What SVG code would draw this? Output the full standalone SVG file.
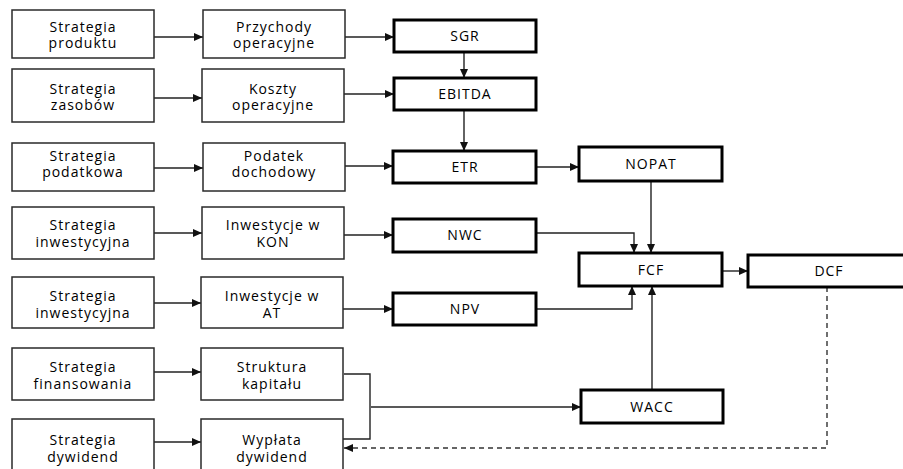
<svg xmlns="http://www.w3.org/2000/svg" width="903" height="469" viewBox="0 0 903 469">
<defs>
<style>
.bx{fill:#fff;stroke:#2a2a2a;stroke-width:1.5}
.bk{fill:#fff;stroke:#000;stroke-width:3}
text{font-family:"Open Sans","DejaVu Sans",sans-serif;font-size:14px;letter-spacing:1px;fill:#000;text-anchor:middle}
.c{fill:none;stroke:#222;stroke-width:1.4}
.d{fill:none;stroke:#333;stroke-width:1.4;stroke-dasharray:5 4}
</style>
<marker id="a" markerUnits="userSpaceOnUse" markerWidth="10" markerHeight="8" refX="9" refY="4" orient="auto">
<path d="M0,0 L9,4 L0,8 Z" fill="#111"/>
</marker>
</defs>
<rect width="903" height="469" fill="#fff"/>
<g id="connectors">
<path class="c" d="M154,37 H203" marker-end="url(#a)"/>
<path class="c" d="M345,37 H394" marker-end="url(#a)"/>
<path class="c" d="M154,98 H202" marker-end="url(#a)"/>
<path class="c" d="M344,94 H394" marker-end="url(#a)"/>
<path class="c" d="M154,168 H203" marker-end="url(#a)"/>
<path class="c" d="M345,166 H393" marker-end="url(#a)"/>
<path class="c" d="M154,233 H202" marker-end="url(#a)"/>
<path class="c" d="M344,235 H393" marker-end="url(#a)"/>
<path class="c" d="M154,303 H201" marker-end="url(#a)"/>
<path class="c" d="M343,309 H393" marker-end="url(#a)"/>
<path class="c" d="M154,372 H201" marker-end="url(#a)"/>
<path class="c" d="M154,442 H201" marker-end="url(#a)"/>
<path class="c" d="M344,374 H370 V439 H343"/>
<path class="c" d="M371,407 H581" marker-end="url(#a)"/>
<path class="c" d="M464,52 V78" marker-end="url(#a)"/>
<path class="c" d="M464,110 V151" marker-end="url(#a)"/>
<path class="c" d="M536,167 H579" marker-end="url(#a)"/>
<path class="c" d="M536,233 H634 V253" marker-end="url(#a)"/>
<path class="c" d="M651,181 V253" marker-end="url(#a)"/>
<path class="c" d="M536,309 H632 V286" marker-end="url(#a)"/>
<path class="c" d="M652,390 V286" marker-end="url(#a)"/>
<path class="c" d="M722,271 H748" marker-end="url(#a)"/>
<path class="d" d="M827,287 V448 H344" marker-end="url(#a)"/>
</g>
<g id="s1"><rect class="bx" x="12" y="10" width="142" height="48"/><text x="83" y="32">Strategia</text><text x="83" y="48">produktu</text></g>
<g id="s2"><rect class="bx" x="12" y="69" width="142" height="53"/><text x="83" y="94">Strategia</text><text x="83" y="110">zasobów</text></g>
<g id="s3"><rect class="bx" x="12" y="143" width="142" height="48"/><text x="83" y="161">Strategia</text><text x="83" y="177">podatkowa</text></g>
<g id="s4"><rect class="bx" x="12" y="207" width="142" height="52"/><text x="83" y="230">Strategia</text><text x="83" y="247">inwestycyjna</text></g>
<g id="s5"><rect class="bx" x="12" y="277" width="142" height="51"/><text x="83" y="301">Strategia</text><text x="83" y="318">inwestycyjna</text></g>
<g id="s6"><rect class="bx" x="12" y="348" width="142" height="52"/><text x="83" y="372">Strategia</text><text x="83" y="389">finansowania</text></g>
<g id="s7"><rect class="bx" x="12" y="419" width="142" height="60"/><text x="83" y="445">Strategia</text><text x="83" y="462">dywidend</text></g>
<g id="m1"><rect class="bx" x="203" y="10" width="142" height="48"/><text x="274" y="32">Przychody</text><text x="274" y="48">operacyjne</text></g>
<g id="m2"><rect class="bx" x="202" y="69" width="142" height="53"/><text x="273" y="94">Koszty</text><text x="273" y="110">operacyjne</text></g>
<g id="m3"><rect class="bx" x="203" y="143" width="142" height="48"/><text x="274" y="161">Podatek</text><text x="274" y="177">dochodowy</text></g>
<g id="m4"><rect class="bx" x="202" y="207" width="142" height="52"/><text x="273" y="230">Inwestycje w</text><text x="273" y="247">KON</text></g>
<g id="m5"><rect class="bx" x="201" y="277" width="142" height="51"/><text x="272" y="301">Inwestycje w</text><text x="272" y="318">AT</text></g>
<g id="m6"><rect class="bx" x="201" y="348" width="142" height="52"/><text x="272" y="372">Struktura</text><text x="272" y="389">kapitału</text></g>
<g id="m7"><rect class="bx" x="201" y="419" width="142" height="60"/><text x="272" y="445">Wypłata</text><text x="272" y="462">dywidend</text></g>
<g id="sgr"><rect class="bk" x="394" y="20" width="142" height="32"/><text x="465" y="41">SGR</text></g>
<g id="ebitda"><rect class="bk" x="394" y="78" width="142" height="32"/><text x="465" y="99">EBITDA</text></g>
<g id="etr"><rect class="bk" x="393" y="151" width="143" height="32"/><text x="465" y="172">ETR</text></g>
<g id="nwc"><rect class="bk" x="393" y="219" width="143" height="33"/><text x="465" y="240">NWC</text></g>
<g id="npv"><rect class="bk" x="393" y="293" width="143" height="32"/><text x="465" y="314">NPV</text></g>
<g id="nopat"><rect class="bk" x="579" y="147" width="143" height="34"/><text x="651" y="169">NOPAT</text></g>
<g id="fcf"><rect class="bk" x="579" y="253" width="143" height="33"/><text x="651" y="275">FCF</text></g>
<g id="wacc"><rect class="bk" x="581" y="390" width="142" height="33"/><text x="652" y="412">WACC</text></g>
<g id="dcf"><rect class="bk" x="748" y="255" width="162" height="32"/><text x="829" y="276">DCF</text></g>
</svg>
